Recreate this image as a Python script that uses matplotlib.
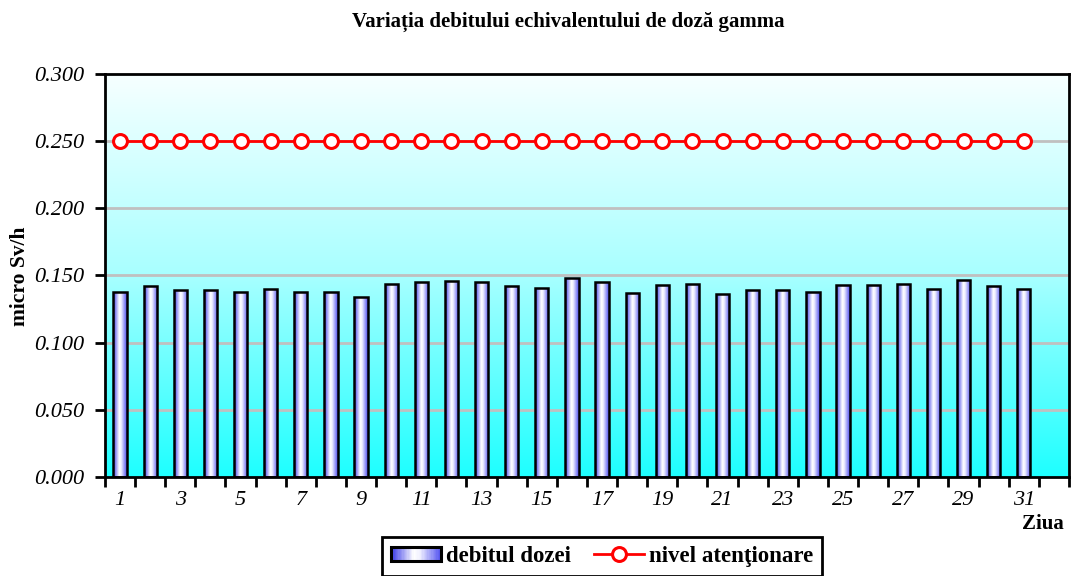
import numpy as np
import matplotlib
matplotlib.use("Agg")
import matplotlib.pyplot as plt
from matplotlib.colors import LinearSegmentedColormap
from matplotlib.legend_handler import HandlerBase
from matplotlib.patches import Rectangle
from matplotlib.lines import Line2D

plt.rcParams['font.family'] = ['Liberation Serif', 'DejaVu Serif']

# daily values
days = list(range(1, 32))
dose = [0.138, 0.142, 0.139, 0.139, 0.138, 0.140, 0.138, 0.138, 0.134, 0.144,
        0.145, 0.146, 0.145, 0.142, 0.141, 0.148, 0.145, 0.137, 0.143, 0.144,
        0.136, 0.139, 0.139, 0.138, 0.143, 0.143, 0.144, 0.140, 0.147, 0.142,
        0.140]
alert = [0.250] * 31
xlabels = [str(d) for d in days if d % 2 == 1]
yticks = [0.0, 0.05, 0.10, 0.15, 0.20, 0.25, 0.30]

bg_cmap = LinearSegmentedColormap.from_list('bg', [(0, '#1effff'), (0.5, '#a8ffff'), (1, '#f7ffff')])
bar_cmap = LinearSegmentedColormap.from_list('bar', [(0, '#3a3ae8'), (0.45, '#ffffff'),
                                                     (0.58, '#f0f0ff'), (1, '#5050f0')])

fig = plt.figure(figsize=(10.72, 5.76), dpi=100)
ax = fig.add_axes([0.0979, 0.1719, 0.8993, 0.6997])

x = np.arange(len(days))

# gradient background (cyan at bottom, almost white at top)
grad = np.linspace(0, 1, 256).reshape(-1, 1)
ax.imshow(grad, extent=[-0.5, 31.5, 0, 0.3], aspect='auto', cmap=bg_cmap,
          origin='lower', zorder=0)

for y in yticks[1:-1]:
    ax.axhline(y, color='#c0c0c0', lw=2, zorder=1)

bw = 0.44
bars = ax.bar(x, dose, width=bw, facecolor='none', edgecolor='black', lw=1.8, zorder=3)
hgrad = np.linspace(0, 1, 64).reshape(1, -1)
for b in bars:
    x0 = b.get_x()
    im = ax.imshow(hgrad, extent=[x0, x0 + bw, 0, b.get_height()], aspect='auto',
                   cmap=bar_cmap, zorder=2)
    im.set_clip_path(b)
ax.set_xlim(-0.5, 31.5)
ax.set_ylim(0, 0.3)

ax.plot(x, alert, color='red', lw=2, marker='o', ms=10, mfc='white', mec='red',
        mew=2.2, zorder=4)

for s in ax.spines.values():
    s.set_linewidth(2)
    s.set_color('black')

ax.set_yticks(yticks)
ax.set_yticklabels(['%.3f' % v for v in yticks], fontsize=16, style='italic')
ax.tick_params(axis='y', direction='out', length=7, width=2, pad=8)

ax.set_xticks(np.arange(-0.5, 32.0, 1.0))
ax.set_xticklabels([])
ax.tick_params(axis='x', which='major', direction='out', length=7, width=2)
ax.set_xticks(x[::2], minor=True)
ax.set_xticklabels(xlabels, minor=True, fontsize=16, style='italic')
ax.tick_params(axis='x', which='minor', length=0, pad=10)

fig.text(0.53, 0.962, 'Variația debitului echivalentului de doză gamma',
         ha='center', va='center', fontsize=15, fontweight='bold')
fig.text(0.019, 0.52, 'micro Sv/h', rotation=90, ha='center', va='center',
         fontsize=15.5, fontweight='bold')
fig.text(0.973, 0.09, 'Ziua', ha='center', va='center', fontsize=15, fontweight='bold')


class GradientBarHandler(HandlerBase):
    def create_artists(self, legend, orig_handle, xdescent, ydescent, width,
                       height, fontsize, trans):
        n = 40
        arts = []
        cols = bar_cmap(np.linspace(0, 1, n))
        h = height * 0.85
        y0 = -ydescent + (height - h) / 2
        for i in range(n):
            r = Rectangle((-xdescent + width * i / n, y0), width / n + 0.3,
                          h, facecolor=cols[i], edgecolor='none', transform=trans)
            arts.append(r)
        arts.append(Rectangle((-xdescent, y0), width, h, facecolor='none',
                              edgecolor='black', lw=2.2, transform=trans))
        return arts


bar_handle = Rectangle((0, 0), 1, 1)
line_handle = Line2D([], [], color='red', lw=2, marker='o', ms=10, mfc='white',
                     mec='red', mew=2.2)
leg = fig.legend([bar_handle, line_handle], ['debitul dozei', 'nivel atenţionare'],
                 handler_map={Rectangle: GradientBarHandler()},
                 loc='upper center', bbox_to_anchor=(0.5615, 0.068), ncol=2,
                 frameon=True, fancybox=False, edgecolor='black', framealpha=1,
                 prop={'weight': 'bold', 'size': 16.5}, handlelength=2.2,
                 columnspacing=1.0, handletextpad=0.2, borderpad=0.4,
                 borderaxespad=0)
leg.get_frame().set_linewidth(2)

fig.savefig('out.png', dpi=100)
